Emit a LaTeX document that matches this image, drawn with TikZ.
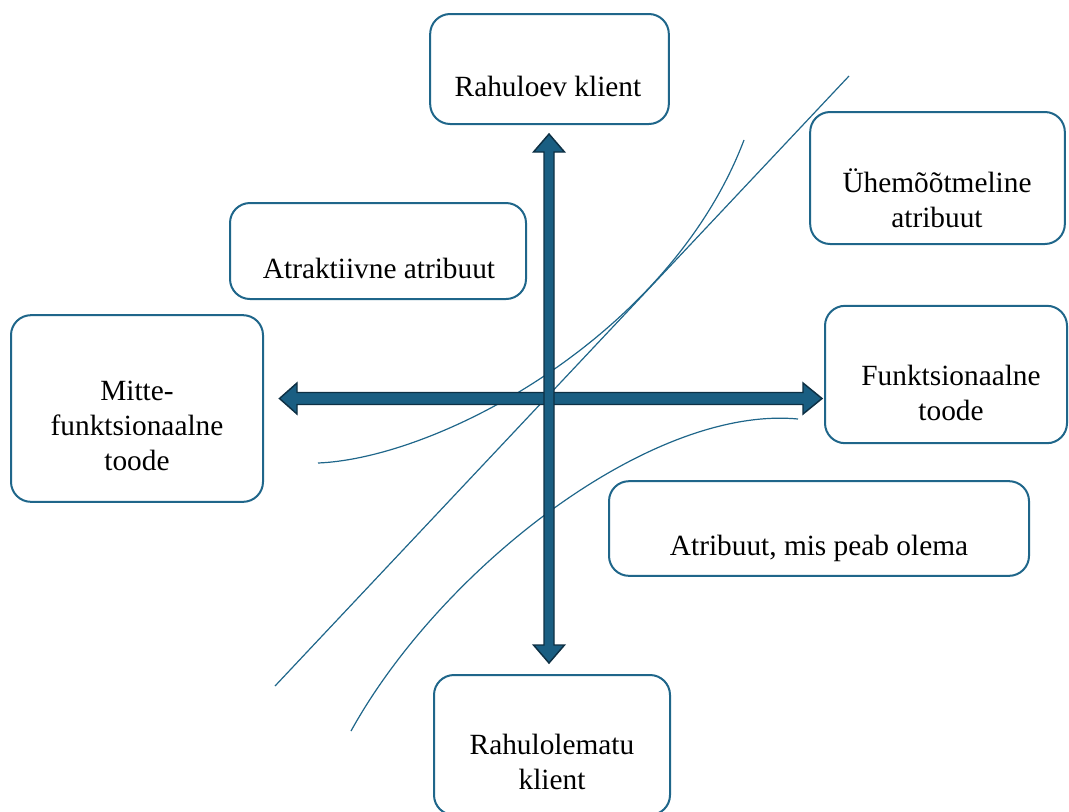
\documentclass[tikz,border=0pt]{standalone}
\usepackage{fontspec}
\setmainfont{Liberation Serif}
\definecolor{boxc}{RGB}{31,102,138}
\definecolor{arrfill}{RGB}{26,94,130}
\definecolor{arrline}{RGB}{14,48,68}
\begin{document}
\begin{tikzpicture}[x=0.75pt,y=-0.75pt,
  box/.style={draw=boxc,line width=1.5pt,rounded corners=15pt,fill=white,inner sep=0pt},
  lbl/.style={align=center,font=\fontsize{22}{26.5}\selectfont,inner sep=0pt},
  thinline/.style={draw=boxc,line width=0.9pt},
  bigarrow/.style={fill=arrfill,draw=arrline,line width=1.1pt,line join=miter}]
\useasboundingbox (0,0) rectangle (1069,811);
% curves and line
\coordinate (l1a) at (275,686); \coordinate (l1b) at (849,76);
\draw[thinline] (l1a) -- (l1b);
\coordinate (c1a) at (318,463); \coordinate (c1b) at (744,140);
\draw[thinline] (c1a) .. controls (440,458) and (670,335) .. (c1b);
\coordinate (c2a) at (351,731); \coordinate (c2b) at (798,419);
\draw[thinline] (c2a) .. controls (440,570) and (650,405) .. (c2b);
% arrows
\draw[bigarrow] (279.5,398.5) -- (297,383) -- (297,392.5) -- (803,392.5) -- (803,383) -- (822,398.5) -- (803,414) -- (803,404.5) -- (297,404.5) -- (297,414) -- cycle;
\draw[bigarrow] (549,134) -- (564.5,152) -- (554,152) -- (554,645) -- (564.5,645) -- (549,663) -- (533.5,645) -- (544,645) -- (544,152) -- (533.5,152) -- cycle;
% boxes
\node[box,minimum width=179pt,minimum height=82.5pt] (b1) at (549.5,69) {};
\node[lbl] (t1) at (548,86) {Rahuloev klient};
\node[box,minimum width=191pt,minimum height=99pt] (b2) at (937.5,178) {};
\node[lbl] (t2) at (937,198) {Ühemõõtmeline\\atribuut};
\node[box,minimum width=222pt,minimum height=72pt] (b3) at (378,251) {};
\node[lbl] (t3) at (379,268) {Atraktiivne atribuut};
\node[box,minimum width=189pt,minimum height=140pt] (b4) at (137,408.5) {};
\node[lbl] (t4) at (137,426) {Mitte-\\funktsionaalne\\toode};
\node[box,minimum width=181.5pt,minimum height=103pt] (b5) at (946,374.5) {};
\node[lbl] (t5) at (951,393) {Funktsionaalne\\toode};
\node[box,minimum width=315pt,minimum height=71pt] (b6) at (819,528.5) {};
\node[lbl] (t6) at (819,548) {Atribuut, mis peab olema};
\node[box,minimum width=177pt,minimum height=105pt] (b7) at (552,745) {};
\node[lbl] (t7) at (552,762) {Rahulolematu\\klient};
\end{tikzpicture}
\end{document}
